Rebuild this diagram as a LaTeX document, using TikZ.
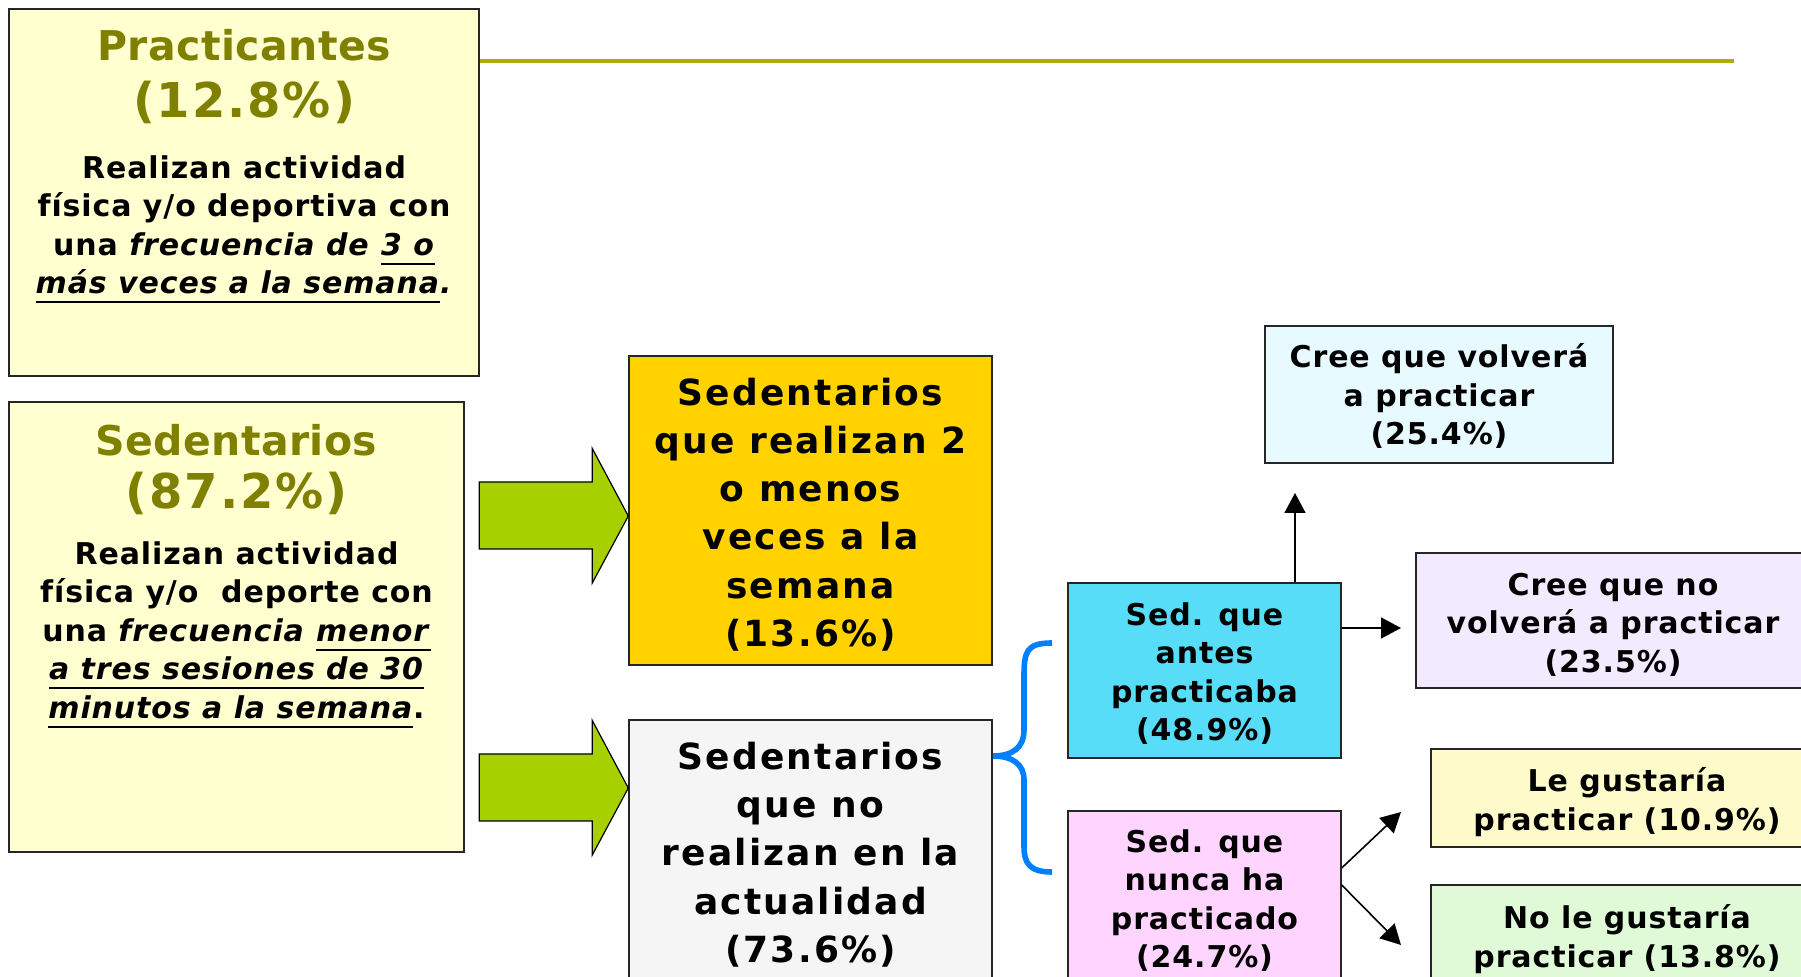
\documentclass[tikz,border=0pt]{standalone}
\usepackage{fontspec}
\setmainfont{DejaVu Sans}
\newfontfamily\titfont{DejaVu Sans}[LetterSpace=1]
\newfontfamily\pctfont{DejaVu Sans}[LetterSpace=4]
\newfontfamily\txtfont{DejaVu Sans}[LetterSpace=3]
\newfontfamily\grfont{DejaVu Sans}[LetterSpace=6]
\usetikzlibrary{arrows.meta}
\definecolor{olivo}{RGB}{128,128,0}
\definecolor{linea}{RGB}{178,170,12}
\definecolor{crema}{RGB}{255,255,208}
\definecolor{naranja}{RGB}{255,210,0}
\definecolor{grisclaro}{RGB}{245,245,245}
\definecolor{celeste}{RGB}{87,221,248}
\definecolor{rosa}{RGB}{255,212,255}
\definecolor{celestepalido}{RGB}{230,250,255}
\definecolor{lila}{RGB}{242,234,255}
\definecolor{amarillo}{RGB}{255,250,202}
\definecolor{verdepalido}{RGB}{224,250,216}
\definecolor{verdebloque}{RGB}{166,208,0}
\definecolor{azul}{RGB}{0,128,255}
\newcommand\subray[1]{\setbox0\hbox{#1}\rlap{\rule[-4.8pt]{\wd0}{1pt}}\box0}
\newcommand\baja[1]{\rule{0pt}{#1}}
\begin{document}
\begin{tikzpicture}[x=0.5pt,y=-0.5pt,
        caja/.style={draw=black!85,line width=0.7pt,inner sep=0pt,align=center},
        chico/.style={font=\txtfont\bfseries\fontsize{15}{19.25}\selectfont},
        grande/.style={font=\grfont\bfseries\fontsize{18}{24.1}\selectfont},
        titulo/.style={align=center,inner sep=0pt,text=olivo,font=\titfont\bfseries\fontsize{20.5}{28.5}\selectfont},
        flecha/.style={-{Triangle[length=10pt,width=10.5pt]},line width=0.8pt},
        bloque/.style={draw=black,line width=0.6pt,fill=verdebloque},
        llave/.style={draw=azul,line width=2.8pt}]
        \useasboundingbox (0,0) rectangle (1801,977);
        \clip (0,0) rectangle (1801,977);
        %% left column
        \node[caja,fill=crema,minimum width=235pt,minimum height=183.5pt] (prac) at (244,192.5) {};
        \node[titulo] (pracTit) at (244,77) {Practicantes\\{\pctfont\fontsize{24}{28.5}\selectfont(12.8\%)}};
        \node[chico,align=center,inner sep=0pt] (pracTxt) at (244,229.5) {Realizan actividad\\física y/o deportiva con\\una \textit{frecuencia de} \subray{\textit{3 o}}\\\subray{\textit{más veces a la semana}}\textit{.}};
        \node[caja,fill=crema,minimum width=227.5pt,minimum height=225pt] (sed) at (236.5,627) {};
        \node[titulo,font=\titfont\bfseries\fontsize{20.5}{26.5}\selectfont] (sedTit) at (236.5,469.5) {Sedentarios\\{\pctfont\fontsize{24}{26.5}\selectfont(87.2\%)}};
        \node[chico,align=center,inner sep=0pt] (sedTxt) at (236.5,634.5) {Realizan actividad\\física y/o\ \ deporte con\\una \textit{frecuencia} \subray{\textit{menor}}\\\subray{\textit{a tres sesiones de 30}}\\\subray{\textit{minutos a la semana}}.};
        \draw[line width=2pt,linea] (prac.east |- 0,61) -- (1734,61);
        %% middle column
        \node[caja,grande,fill=naranja,minimum width=181.5pt,minimum height=154.5pt] (sedDos) at (810.5,510.5) {\baja{17.7pt}Sedentarios\\que realizan 2\\o menos\\veces a la\\semana\\(13.6\%)};
        \node[caja,grande,fill=grisclaro,minimum width=181.5pt,minimum height=133pt] (sedNo) at (810.5,853) {\baja{15.2pt}Sedentarios\\que no\\realizan en la\\actualidad\\(73.6\%)};
        \foreach \dest/\yy in {sedDos/516,sedNo/788} {
            \draw[bloque] (\dest.west |- 0,\yy) -- ++(-36,-67.5) -- ++(0,33.5) -- ++(-113,0) -- ++(0,67) -- ++(113,0) -- ++(0,34) -- cycle;
        }
        %% right side
        \node[caja,chico,fill=celeste,minimum width=136.5pt,minimum height=87.5pt] (antes) at (1204.5,670.5) {\baja{14.4pt}Sed. que\\antes\\practicaba\\(48.9\%)};
        \node[caja,chico,fill=rosa,minimum width=136.5pt,minimum height=89.5pt] (nunca) at (1204.5,900.5) {Sed. que\\nunca ha\\practicado\\(24.7\%)};
        \node[caja,chico,fill=celestepalido,minimum width=174pt,minimum height=68.5pt] (volvera) at (1439,394.5) {\baja{13.7pt}Cree que volverá\\a practicar\\(25.4\%)};
        \node[caja,chico,fill=lila,minimum width=197pt,minimum height=67.5pt] (noVolvera) at (1613,620.5) {\baja{15.2pt}Cree que no\\volverá a practicar\\(23.5\%)};
        \node[caja,chico,fill=amarillo,minimum width=196pt,minimum height=49pt] (gusta) at (1627,798) {\baja{16pt}Le gustaría\\practicar (10.9\%)};
        \node[caja,chico,fill=verdepalido,minimum width=196pt,minimum height=54pt] (noGusta) at (1627,939) {No le gustaría\\practicar (13.8\%)};
        %% brace
        \coordinate (llaveTop) at (1052,643);
        \coordinate (llavePunta) at (993,756);
        \coordinate (llaveBot) at (1052,872);
        \draw[llave] (llaveTop) .. controls (1026,643) and (1024,652) .. (1024,677) -- (1024,730)
            .. controls (1024,748) and (1012,756) .. (llavePunta)
            .. controls (1012,756) and (1024,764) .. (1024,780) -- (1024,846)
            .. controls (1024,864) and (1030,872) .. (llaveBot);
        %% arrows
        \coordinate (tipVol) at (1295,493);
        \coordinate (tipNoVol) at (1401,628);
        \coordinate (tipGusta) at (1401,812);
        \coordinate (tipNoGusta) at (1401,945);
        \draw[flecha] (antes.north -| tipVol) -- (tipVol);
        \draw[flecha] (antes.east |- tipNoVol) -- (tipNoVol);
        \draw[flecha] (nunca.east |- 0,868) -- (tipGusta);
        \draw[flecha] (nunca.east |- 0,885) -- (tipNoGusta);
    \end{tikzpicture}
\end{document}
